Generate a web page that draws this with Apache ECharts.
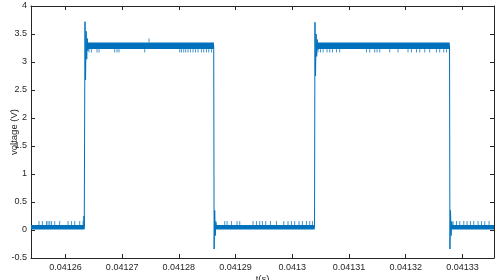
<!DOCTYPE html>
<html><head><meta charset="utf-8">
<script src="https://cdn.jsdelivr.net/npm/echarts@6/dist/echarts.min.js"></script>
<style>html,body{margin:0;padding:0;background:#fff}#c{width:504px;height:280px}</style>
</head><body><div id="c"></div>
<script>
// ---- axis definitions ----
const xTicks = [0.04126, 0.04127, 0.04128, 0.04129, 0.0413, 0.04131, 0.04132, 0.04133];
const xTickLabels = ['0.04126', '0.04127', '0.04128', '0.04129', '0.0413', '0.04131', '0.04132', '0.04133'];
const xRangeUs = [41253.93, 41335.57];
const yRange = [-0.5, 4];
const yStep = 0.5;

// ---- main trace (time in microseconds, voltage in V) ----
const traceTimeUs = [41253.93, 41263.24, 41263.28, 41263.32, 41263.38, 41263.45, 41263.55, 41263.65, 41263.75, 41263.85, 41263.95, 41264.10,
  41286.15, 41286.22, 41286.32, 41286.42, 41286.52, 41286.65,
  41303.92, 41304.00, 41304.10, 41304.20, 41304.30, 41304.40, 41304.50, 41304.65,
  41327.73, 41327.80, 41327.90, 41328.00, 41328.10, 41328.25, 41335.57];
const traceVolt = [0.05, 0.05, 0.25, 0.05, 0.05, 3.72, 2.68, 3.55, 3.05, 3.42, 3.20, 3.29,
  3.29, -0.34, 0.35, -0.10, 0.15, 0.05,
  0.05, 3.71, 2.75, 3.50, 3.10, 3.40, 3.22, 3.29,
  3.29, -0.34, 0.35, -0.10, 0.15, 0.05, 0.05];

// ---- noise bands: [startUs, endUs, lowV, highV] ----
const lowBands = [[41253.93, 41263.40], [41286.30, 41303.96], [41327.88, 41335.57]];
const highBands = [[41263.70, 41286.19], [41304.25, 41327.77]];
const lowBandV = [0.01, 0.09];
const highBandV = [3.23, 3.35];

// ---- spikes in the noise bands (times in microseconds) ----
const lowSpikeUs = [41255.34, 41255.94, 41256.65, 41256.93, 41257.23, 41257.53, 41258.11, 41258.99, 41260.46, 41261.06, 41261.64, 41262.52, 41263.10,
  41288.09, 41288.50, 41289.27, 41290.26, 41290.74, 41293.08, 41293.68, 41294.26, 41294.74, 41295.32, 41296.15, 41297.21, 41298.50, 41299.25, 41299.85, 41300.43, 41301.19, 41301.79, 41302.50, 41303.08, 41303.56,
  41328.35, 41328.95, 41329.53, 41330.24, 41330.82, 41331.42, 41332.00, 41332.76, 41333.36, 41333.94, 41334.70];
const lowSpikePeak = 0.16;
const highDipUs = [41264.16, 41264.58, 41265.57, 41265.93, 41268.69, 41269.10, 41269.45, 41273.98, 41280.16, 41280.46, 41280.86, 41281.21, 41281.62, 41282.04, 41282.50, 41282.92, 41283.38, 41283.98, 41284.39, 41284.86, 41285.27, 41285.75,
  41304.54, 41304.97, 41305.43, 41306.13, 41306.61, 41307.08, 41307.79, 41308.37, 41313.08, 41313.66, 41314.54, 41314.95, 41315.42, 41317.19, 41318.65, 41320.41, 41321.01, 41321.90, 41322.48, 41323.36, 41324.24, 41325.42, 41326.00, 41326.71, 41327.19];
const highDipLow = 3.17;
const highUpSpikeUs = [41274.74];
const highUpSpikePeak = 3.42;

// ---- build ----
const us = v => v * 1e-6;
const COLOR = '#0072BD';
const AX = '#262626';
const FONT = 'Liberation Sans, Arial, sans-serif';

const traceData = traceTimeUs.map((t, i) => [us(t), traceVolt[i]]);
const bandData = lowBands.map(b => [us(b[0]), us(b[1]), lowBandV[0], lowBandV[1]])
  .concat(highBands.map(b => [us(b[0]), us(b[1]), highBandV[0], highBandV[1]]));
const spikeData = lowSpikeUs.map(t => [us(t), lowBandV[1], lowSpikePeak])
  .concat(highDipUs.map(t => [us(t), highBandV[0], highDipLow]))
  .concat(highUpSpikeUs.map(t => [us(t), highBandV[1], highUpSpikePeak]));

const xMin = us(xRangeUs[0]), xMax = us(xRangeUs[1]);
const fmtX = v => {
  let best = 0;
  xTicks.forEach((t, i) => { if (Math.abs(t - v) < Math.abs(xTicks[best] - v)) best = i; });
  return xTickLabels[best];
};

const chart = echarts.init(document.getElementById('c'), null, {renderer: 'canvas'});
chart.setOption({
  animation: false,
  backgroundColor: '#fff',
  grid: {left: 31, right: 10, top: 6, bottom: 22, containLabel: false, outerBoundsMode: 'none'},
  xAxis: [{
    type: 'value', min: xMin, max: xMax, position: 'bottom',
    name: 't(s)', nameLocation: 'middle', nameGap: 16, nameMoveOverlap: false,
    nameTextStyle: {color: AX, fontSize: 9.5, fontFamily: FONT},
    axisLine: {show: true, onZero: false, lineStyle: {color: AX, width: 1}},
    axisTick: {show: true, inside: true, length: 4, customValues: xTicks, lineStyle: {color: AX}},
    axisLabel: {show: true, customValues: xTicks, formatter: fmtX, margin: 5, color: AX, fontSize: 9, fontFamily: FONT},
    splitLine: {show: false}
  }, {
    type: 'value', min: xMin, max: xMax, position: 'top',
    axisLine: {show: true, onZero: false, lineStyle: {color: AX, width: 1}},
    axisTick: {show: true, inside: true, length: 4, customValues: xTicks, lineStyle: {color: AX}},
    axisLabel: {show: false},
    splitLine: {show: false}
  }],
  yAxis: [{
    type: 'value', min: yRange[0], max: yRange[1], interval: yStep, position: 'left',
    name: 'voltage (V)', nameLocation: 'middle', nameGap: 12, nameRotate: 90, nameMoveOverlap: false,
    nameTextStyle: {color: AX, fontSize: 9.5, fontFamily: FONT},
    axisLine: {show: true, onZero: false, lineStyle: {color: AX, width: 1}},
    axisTick: {show: true, inside: true, length: 4, lineStyle: {color: AX}},
    axisLabel: {show: true, margin: 4, color: AX, fontSize: 9, fontFamily: FONT},
    splitLine: {show: false}
  }, {
    type: 'value', min: yRange[0], max: yRange[1], interval: yStep, position: 'right',
    axisLine: {show: true, onZero: false, lineStyle: {color: AX, width: 1}},
    axisTick: {show: true, inside: true, length: 4, lineStyle: {color: AX}},
    axisLabel: {show: false},
    splitLine: {show: false}
  }],
  series: [{
    type: 'custom', xAxisIndex: 0, yAxisIndex: 0, clip: true,
    data: bandData,
    encode: {x: [0, 1], y: [2, 3]},
    renderItem: (params, api) => {
      const p0 = api.coord([api.value(0), api.value(3)]);
      const p1 = api.coord([api.value(1), api.value(2)]);
      return {type: 'rect', shape: {x: p0[0], y: p0[1], width: p1[0] - p0[0], height: p1[1] - p0[1]}, style: {fill: COLOR}};
    }
  }, {
    type: 'custom', xAxisIndex: 0, yAxisIndex: 0, clip: true,
    data: spikeData,
    encode: {x: 0, y: [1, 2]},
    renderItem: (params, api) => {
      const p0 = api.coord([api.value(0), api.value(1)]);
      const p1 = api.coord([api.value(0), api.value(2)]);
      return {type: 'line', shape: {x1: p0[0], y1: p0[1], x2: p1[0], y2: p1[1]}, style: {stroke: COLOR, lineWidth: 1, opacity: 0.75}};
    }
  }, {
    type: 'line', xAxisIndex: 0, yAxisIndex: 0,
    data: traceData, showSymbol: false, symbol: 'none',
    lineStyle: {color: COLOR, width: 1}, clip: true
  }]
});
</script>
</body></html>
